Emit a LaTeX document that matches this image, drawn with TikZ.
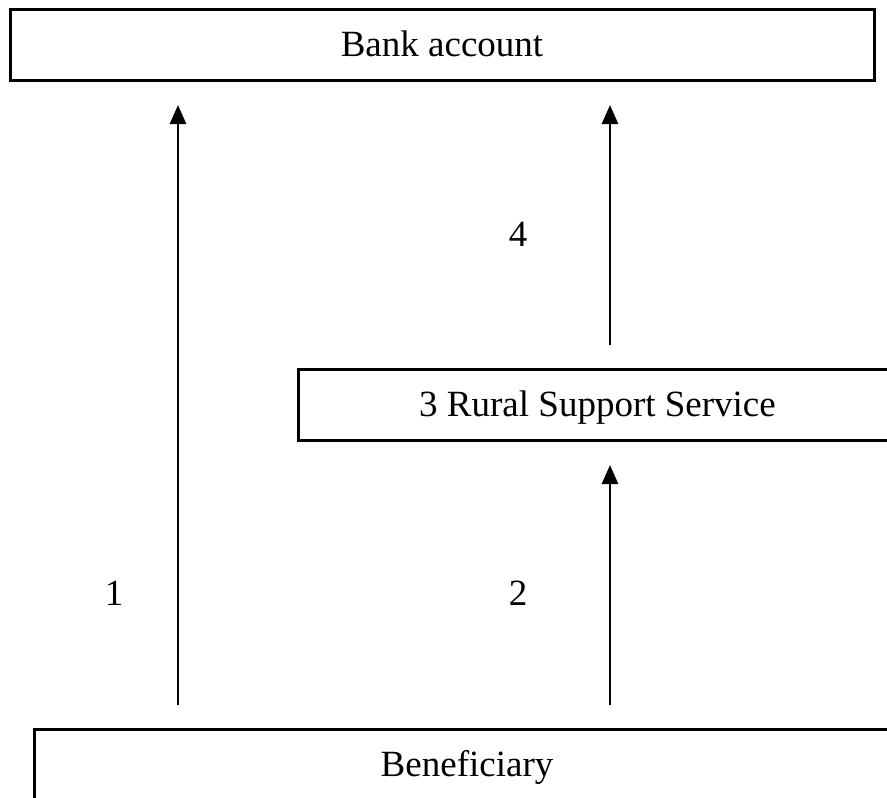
\documentclass[tikz,border=0pt]{standalone}
\usepackage{fontspec}
\setmainfont{Liberation Serif}
\usetikzlibrary{arrows.meta}
\begin{document}
\begin{tikzpicture}[x=1pt,y=-1pt,
  box/.style={draw=black, line width=3pt, rectangle, minimum height=71pt,
    inner sep=0pt, font=\fontsize{37}{44}\selectfont, text height=24pt, text depth=-3pt},
  lbl/.style={anchor=base, inner sep=0pt, font=\fontsize{37}{44}\selectfont},
  flow/.style={line width=2.7pt, -{Triangle[length=19pt,width=16pt]}}]
  \clip (0,0) rectangle (887,798);
  \fill[white] (0,0) rectangle (887,798);

  % boxes
  \node[box, minimum width=864pt] (bank) at (442,44.5) {Bank account};
  \node[box, minimum width=599pt] (rural) at (597.5,404.5) {3 Rural Support Service};
  \node[box, minimum width=866pt] (benef) at (467,764.5) {Beneficiary};

  % arrow end points
  \coordinate (a1s) at (178,705);
  \coordinate (a1e) at (178,105);
  \coordinate (a2s) at (610,705);
  \coordinate (a2e) at (610,465);
  \coordinate (a4s) at (610,345);
  \coordinate (a4e) at (610,105);

  \draw[flow] (a1s) -- (a1e);
  \draw[flow] (a2s) -- (a2e);
  \draw[flow] (a4s) -- (a4e);

  % step numbers
  \node[lbl] (n1) at (114,605) {1};
  \node[lbl] (n2) at (518,605) {2};
  \node[lbl] (n4) at (518,246) {4};
\end{tikzpicture}
\end{document}
